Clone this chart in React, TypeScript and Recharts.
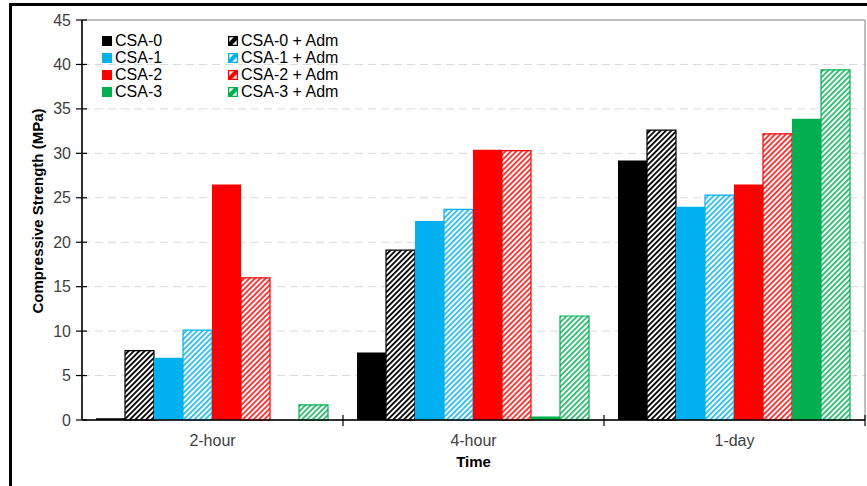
import React from 'react';
import { BarChart, Bar, XAxis, YAxis, CartesianGrid, ReferenceArea } from 'recharts';

const TIMES = ['2-hour', '4-hour', '1-day'];

const CSA0 = [0.2, 7.6, 29.2];
const CSA0_ADM = [7.8, 19.1, 32.6];
const CSA1 = [7.0, 22.4, 24.0];
const CSA1_ADM = [10.1, 23.7, 25.3];
const CSA2 = [26.5, 30.4, 26.5];
const CSA2_ADM = [16.0, 30.3, 32.2];
const CSA3 = [0, 0.4, 33.9];
const CSA3_ADM = [1.7, 11.7, 39.4];

const MAJOR_TICKS = [0, 5, 10, 15, 20, 25, 30, 35, 40, 45];
const MINOR_TICKS = Array.from({ length: 46 }, (_, i) => i).filter((v) => v % 5 !== 0);
const GRID_VALUES = [5, 10, 15, 20, 25, 30, 35, 40];

const SERIES = [
  { key: 'csa0', name: 'CSA-0', values: CSA0, color: '#000000', hatched: false },
  { key: 'csa0adm', name: 'CSA-0 + Adm', values: CSA0_ADM, color: '#000000', hatched: true },
  { key: 'csa1', name: 'CSA-1', values: CSA1, color: '#00b0f0', hatched: false },
  { key: 'csa1adm', name: 'CSA-1 + Adm', values: CSA1_ADM, color: '#00b0f0', hatched: true },
  { key: 'csa2', name: 'CSA-2', values: CSA2, color: '#ff0000', hatched: false },
  { key: 'csa2adm', name: 'CSA-2 + Adm', values: CSA2_ADM, color: '#ff0000', hatched: true },
  { key: 'csa3', name: 'CSA-3', values: CSA3, color: '#00b050', hatched: false },
  { key: 'csa3adm', name: 'CSA-3 + Adm', values: CSA3_ADM, color: '#00b050', hatched: true },
];

const data = TIMES.map((time, i) => {
  const row: Record<string, string | number> = { time };
  SERIES.forEach((s) => {
    row[s.key] = s.values[i];
  });
  return row;
});

const W = 867;
const H = 486;
const PLOT_LEFT = 82;
const PLOT_RIGHT = 865;
const PLOT_TOP = 20;
const PLOT_BOTTOM = 420;
const BAND = (PLOT_RIGHT - PLOT_LEFT) / TIMES.length;
const FONT = 'Arial, "Liberation Sans", sans-serif';
const TICK_COLOR = '#404040';

function YTick(props: any) {
  const { y, payload } = props;
  return (
    <g>
      <line x1={PLOT_LEFT - 6} x2={PLOT_LEFT + 5} y1={y} y2={y} stroke="#000" strokeWidth={1.2} />
      <text x={PLOT_LEFT - 11} y={y} dy={5.5} textAnchor="end" fontSize={16} fill={TICK_COLOR} fontFamily={FONT}>
        {payload.value}
      </text>
    </g>
  );
}

function MinorTick(props: any) {
  const { y } = props;
  return (
    <g>
      <line x1={PLOT_LEFT - 4} x2={PLOT_LEFT} y1={y} y2={y} stroke="#000" strokeWidth={1.2} />
    </g>
  );
}

function XTick(props: any) {
  const { payload } = props;
  const cx = payload.coordinate;
  const sx = cx + BAND / 2;
  return (
    <g>
      <line x1={sx} x2={sx} y1={PLOT_BOTTOM - 5} y2={PLOT_BOTTOM + 6} stroke="#000" strokeWidth={1.2} />
      <text x={cx} y={PLOT_BOTTOM + 26} textAnchor="middle" fontSize={16} fill={TICK_COLOR} fontFamily={FONT}>
        {payload.value}
      </text>
    </g>
  );
}

function YLabel() {
  const cx = 37;
  const cy = 211;
  return (
    <text
      x={cx}
      y={cy}
      transform={`rotate(-90 ${cx} ${cy})`}
      textAnchor="middle"
      dominantBaseline="central"
      fontSize={15}
      fontWeight="bold"
      fill="#000"
      fontFamily={FONT}
    >
      Compressive Strength (MPa)
    </text>
  );
}

function XLabel() {
  return (
    <text
      x={(PLOT_LEFT + PLOT_RIGHT) / 2}
      y={467}
      textAnchor="middle"
      fontSize={15}
      fontWeight="bold"
      fill="#000"
      fontFamily={FONT}
    >
      Time
    </text>
  );
}

function Swatch({ color, hatched }: { color: string; hatched: boolean }) {
  return (
    <svg width={10} height={10} style={{ display: 'block', marginRight: 3 }}>
      {hatched ? (
        <>
          <rect x={0.5} y={0.5} width={9} height={9} fill="#fff" stroke={color} strokeWidth={1.2} />
          <polygon points="0,7 7,0 10,0 10,3 3,10 0,10" fill={color} />
          <rect x={0.5} y={0.5} width={9} height={9} fill="none" stroke={color} strokeWidth={1.4} />
        </>
      ) : (
        <rect x={0} y={0} width={10} height={10} fill={color} />
      )}
    </svg>
  );
}

function LegendBox() {
  const cols = [SERIES.filter((s) => !s.hatched), SERIES.filter((s) => s.hatched)];
  const lefts = [102, 228];
  return (
    <>
      {cols.map((col, ci) => (
        <div key={ci} style={{ position: 'absolute', left: lefts[ci], top: 32, fontFamily: FONT, fontSize: 16, color: '#000' }}>
          {col.map((s) => (
            <div key={s.key} style={{ display: 'flex', alignItems: 'center', height: 17, lineHeight: '17px' }}>
              <Swatch color={s.color} hatched={s.hatched} />
              <span>{s.name}</span>
            </div>
          ))}
        </div>
      ))}
    </>
  );
}

export default function App() {
  return (
    <div style={{ position: 'absolute', left: 0, top: 0, width: W, height: H, overflow: 'hidden', background: '#fff' }}>
      <div
        style={{
          position: 'absolute',
          left: 9,
          top: 3,
          width: W + 40,
          height: H + 40,
          border: '3px solid #000',
          boxSizing: 'border-box',
        }}
      />
      <div style={{ position: 'absolute', left: 0, top: 0 }}>
        <BarChart
          width={W}
          height={H}
          data={data}
          margin={{ top: PLOT_TOP, right: W - PLOT_RIGHT, left: 0, bottom: 0 }}
          barCategoryGap={14}
          barGap={0}
        >
          <defs>
            {SERIES.filter((s) => s.hatched).map((s) => (
              <pattern
                key={s.key}
                id={`hatch-${s.key}`}
                patternUnits="userSpaceOnUse"
                width={3.8}
                height={3.8}
                patternTransform="rotate(45)"
              >
                <rect width={3.8} height={3.8} fill="#fff" />
                <line x1={0.9} y1={0} x2={0.9} y2={3.8} stroke={s.color} strokeWidth={s.color === '#000000' ? 1.8 : 1.5} />
              </pattern>
            ))}
          </defs>
          <ReferenceArea y1={0} y2={45} fill="none" stroke="#7f7f7f" strokeWidth={1} />
          <CartesianGrid vertical={false} horizontalValues={GRID_VALUES} stroke="#d9d9d9" strokeDasharray="8 5" />
          <XAxis
            dataKey="time"
            height={H - PLOT_BOTTOM}
            interval={0}
            tickLine={false}
            axisLine={{ stroke: '#000', strokeWidth: 1.5 }}
            tick={(p: any) => <XTick {...p} />}
            label={<XLabel />}
          />
          <YAxis
            domain={[0, 45]}
            ticks={MAJOR_TICKS}
            interval={0}
            width={PLOT_LEFT}
            tickLine={false}
            axisLine={{ stroke: '#000', strokeWidth: 1.5 }}
            tick={(p: any) => <YTick {...p} />}
            label={<YLabel />}
          />
          <YAxis
            yAxisId="minor"
            domain={[0, 45]}
            ticks={MINOR_TICKS}
            interval={0}
            width={0}
            tickLine={false}
            axisLine={false}
            tick={(p: any) => <MinorTick {...p} />}
          />
          {SERIES.map((s) => (
            <Bar
              key={s.key}
              dataKey={s.key}
              name={s.name}
              fill={s.hatched ? `url(#hatch-${s.key})` : s.color}
              stroke={s.color}
              strokeWidth={s.hatched ? 1.2 : 0}
              isAnimationActive={false}
            />
          ))}
        </BarChart>
      </div>
      <LegendBox />
    </div>
  );
}
